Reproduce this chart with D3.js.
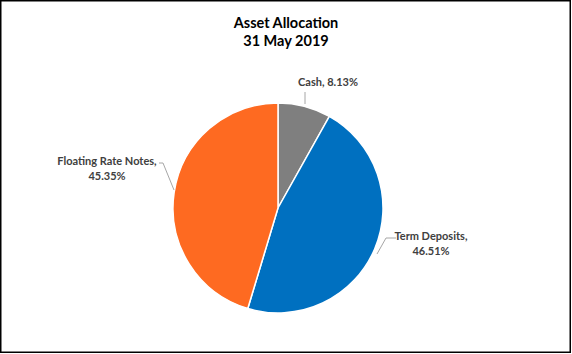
<!DOCTYPE html>
<html>
<head>
<meta charset="utf-8">
<script src="https://cdn.jsdelivr.net/npm/d3@7"></script>
<style>
  body { margin: 0; background: #fff; }
  svg { display: block; font-family: Lato, "Open Sans", sans-serif; }
</style>
</head>
<body>
<svg id="chart" width="572" height="354"></svg>
<script>
const categories = ["Cash", "Term Deposits", "Floating Rate Notes"];
const shares = [8.13, 46.51, 45.35];
const colors = ["#7f7f7f", "#0070c0", "#fe6a21"];
const titleLines = ["Asset Allocation", "31 May 2019"];

let width = 572;
let height = 354;
let cx = 278, cy = 208, radius = 105;

let svg = d3.select("#chart");

// frame
svg.append("rect")
  .attr("x", 0.75).attr("y", 0.75)
  .attr("width", width - 2.5).attr("height", height - 2.5)
  .style("fill", "#fff")
  .style("stroke", "#000")
  .style("stroke-width", 1.5);

svg.append("g")
  .selectAll("text")
  .data(titleLines)
  .join("text")
  .attr("x", 286)
  .attr("y", (d, i) => 28 + i * 18)
  .attr("text-anchor", "middle")
  .style("font-size", "14.5px")
  .style("font-weight", "bold")
  .style("fill", "#000")
  .text(d => d);

let data = categories.map((c, i) => ({ name: c, value: shares[i], color: colors[i] }));

let pie = d3.pie().sort(null).value(d => d.value);
let arcs = pie(data);
let arc = d3.arc().innerRadius(0).outerRadius(radius);

let g = svg.append("g").attr("transform", `translate(${cx},${cy})`);

g.selectAll("path")
  .data(arcs)
  .join("path")
  .attr("d", arc)
  .style("fill", d => d.data.color)
  .style("stroke", "#fff")
  .style("stroke-width", 1.5);

// label placements relative to pie centre
let labelSpec = [
  { lines: [d => `${d.data.name}, ${d.data.value.toFixed(2)}%`], x: 50, y: -122,
    leader: [[27, -116], [27, -radius + 1]] },
  { lines: [d => `${d.data.name},`, d => `${d.data.value.toFixed(2)}%`], x: 153, y: 32,
    leader: [[118, 30], [108, 30], [99, 46]] },
  { lines: [d => `${d.data.name},`, d => `${d.data.value.toFixed(2)}%`], x: -171, y: -43,
    leader: [[-119, -45], [-115, -45], [-104, -18]] }
];

let line = d3.line();

arcs.forEach((a, i) => {
  let s = labelSpec[i];
  g.append("path")
    .attr("d", line(s.leader))
    .style("fill", "none")
    .style("stroke", "#a6a6a6")
    .style("stroke-width", 1);
  s.lines.forEach((fn, j) => {
    g.append("text")
      .attr("x", s.x)
      .attr("y", s.y + j * 15)
      .attr("text-anchor", "middle")
      .style("font-size", "11px")
      .style("font-weight", "bold")
      .style("fill", "#404040")
      .text(fn(a));
  });
});
</script>
</body>
</html>
